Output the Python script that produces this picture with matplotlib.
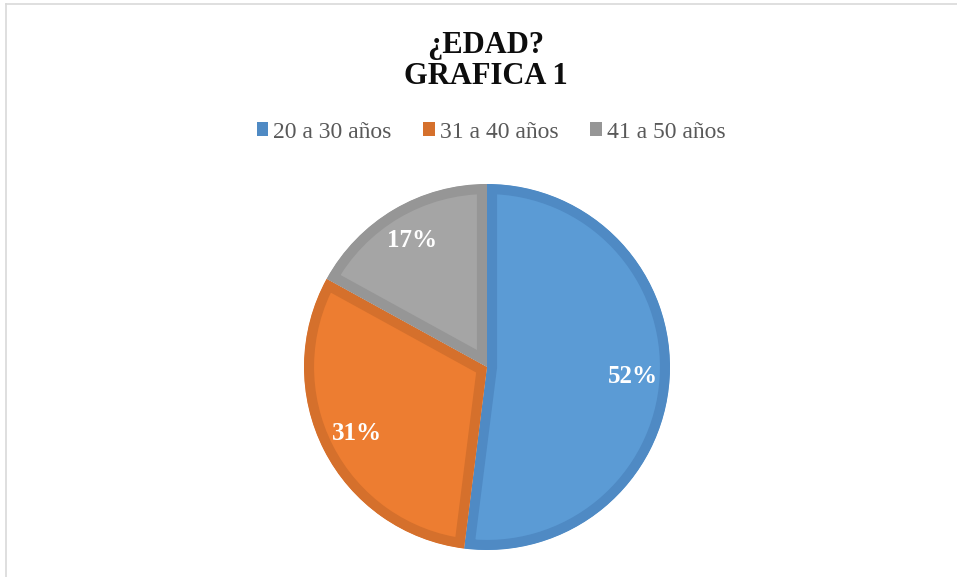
import matplotlib.pyplot as plt
from matplotlib.lines import Line2D
from matplotlib.patches import Patch

# Data
categories = ['20 a 30 años', '31 a 40 años', '41 a 50 años']
values = [52, 31, 17]
face_colors = ['#5B9BD5', '#ED7D31', '#A5A5A5']
edge_colors = ['#4F8AC4', '#D5702C', '#969696']

W, H = 957, 577
fig = plt.figure(figsize=(W / 100, H / 100), dpi=100)
fig.patch.set_facecolor('white')

serif = ['Liberation Serif', 'DejaVu Serif']

# Light chart frame (top and left edges visible)
frame_kw = dict(color='#D9D9D9', linewidth=1.2, transform=fig.transFigure)
fig.add_artist(Line2D([6 / W, 1], [1 - 4 / H, 1 - 4 / H], **frame_kw))
fig.add_artist(Line2D([6 / W, 6 / W], [1 - 4 / H, 0], **frame_kw))

# Title, two lines
fig.text(486 / W, 1 - 53 / H, '¿EDAD?', ha='center', va='baseline',
         fontsize=22, fontweight='bold', family=serif, color='#0D0D0D')
fig.text(486 / W, 1 - 84 / H, 'GRAFICA 1', ha='center', va='baseline',
         fontsize=22, fontweight='bold', family=serif, color='#0D0D0D')

# Pie axes: centre (487, 367), radius 183 px
cx, cy, r = 487, 367, 183
ax = fig.add_axes([(cx - r) / W, (H - cy - r) / H, 2 * r / W, 2 * r / H])
wedges, _, autotexts = ax.pie(
    values, colors=face_colors, startangle=90, counterclock=False,
    autopct=lambda p: f'{p:.0f}%', pctdistance=0.8, radius=1,
    textprops=dict(color='white', fontsize=18, fontweight='bold', family=serif))

# Excel-like darker inner border on each wedge (line clipped to the wedge)
for w, ec in zip(wedges, edge_colors):
    w.set_edgecolor(ec)
    w.set_linewidth(14.5)
    w.set_clip_path(w)
    w.set_clip_on(True)

ax.set_xlim(-1, 1)
ax.set_ylim(-1, 1)
ax.axis('off')

# Legend
handles = [Patch(facecolor=ec, edgecolor='none') for ec in edge_colors]
leg = fig.legend(handles, categories, loc='center', ncol=3, frameon=False,
                 bbox_to_anchor=(491 / W, 1 - 132 / H),
                 prop=dict(family=serif, size=17),
                 handlelength=0.5, handleheight=0.5, handletextpad=0.2,
                 columnspacing=1.35, borderaxespad=0)
for t in leg.get_texts():
    t.set_color('#595959')

fig.savefig('out.png', dpi=100, facecolor='white')
